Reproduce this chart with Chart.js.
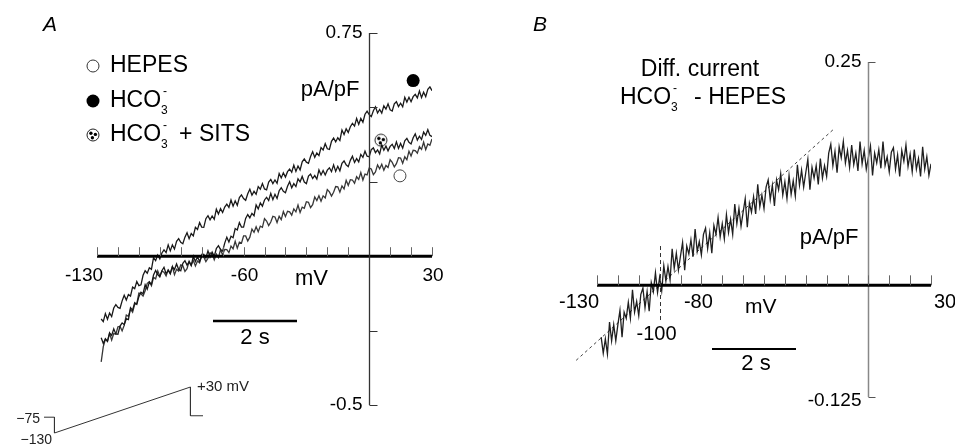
<!DOCTYPE html>
<html>
<head>
<meta charset="utf-8">
<script src="https://cdn.jsdelivr.net/npm/chart.js@4/dist/chart.umd.min.js"></script>
<style>
  html, body { margin: 0; padding: 0; background: #fff; width: 955px; height: 446px; overflow: hidden; }
  canvas { position: absolute; }
  #chartA { left: 0; top: 0; }
  #chartB { left: 480px; top: 0; }
  #chartP { left: 0; top: 370px; }
</style>
</head>
<body>
<canvas id="chartA" width="480" height="446"></canvas>
<canvas id="chartB" width="475" height="446"></canvas>
<canvas id="chartP" width="270" height="76"></canvas>
<script>
// Data

// membrane potential (mV) along the ramp, shared by both panels
const mv = [
  -128, -127, -126, -125, -124, -123, -122, -121, -120, -119,
  -118, -117, -116, -115, -114, -113, -112, -111, -110, -109,
  -108, -107, -106, -105, -104, -103, -102, -101, -100, -99,
  -98, -97, -96, -95, -94, -93, -92, -91, -90, -89,
  -88, -87, -86, -85, -84, -83, -82, -81, -80, -79,
  -78, -77, -76, -75, -74, -73, -72, -71, -70, -69,
  -68, -67, -66, -65, -64, -63, -62, -61, -60, -59,
  -58, -57, -56, -55, -54, -53, -52, -51, -50, -49,
  -48, -47, -46, -45, -44, -43, -42, -41, -40, -39,
  -38, -37, -36, -35, -34, -33, -32, -31, -30, -29,
  -28, -27, -26, -25, -24, -23, -22, -21, -20, -19,
  -18, -17, -16, -15, -14, -13, -12, -11, -10, -9,
  -8, -7, -6, -5, -4, -3, -2, -1, 0, 1,
  2, 3, 4, 5, 6, 7, 8, 9, 10, 11,
  12, 13, 14, 15, 16, 17, 18, 19, 20, 21,
  22, 23, 24, 25, 26, 27, 28, 29, 30
];

// panel A, current density (pA/pF)
const hco3 = [
  -0.211, -0.22, -0.193, -0.212, -0.191, -0.203, -0.174, -0.163, -0.172, -0.175,
  -0.15, -0.131, -0.147, -0.129, -0.134, -0.104, -0.109, -0.085, -0.099, -0.096,
  -0.064, -0.049, -0.057, -0.039, -0.044, -0.005, -0.015, 0.004, -0.009, 0.011,
  0.021, 0.012, 0.038, 0.018, 0.038, 0.024, 0.05, 0.059, 0.047, 0.042,
  0.064, 0.079, 0.059, 0.076, 0.068, 0.097, 0.09, 0.113, 0.098, 0.097,
  0.126, 0.136, 0.122, 0.135, 0.124, 0.158, 0.142, 0.16, 0.147, 0.165,
  0.175, 0.164, 0.189, 0.168, 0.186, 0.171, 0.197, 0.206, 0.194, 0.188,
  0.21, 0.225, 0.205, 0.218, 0.208, 0.234, 0.225, 0.244, 0.226, 0.223,
  0.249, 0.258, 0.244, 0.256, 0.245, 0.278, 0.263, 0.28, 0.266, 0.284,
  0.293, 0.282, 0.306, 0.285, 0.303, 0.29, 0.317, 0.327, 0.316, 0.312,
  0.335, 0.351, 0.332, 0.347, 0.338, 0.365, 0.357, 0.378, 0.361, 0.359,
  0.386, 0.397, 0.384, 0.398, 0.389, 0.424, 0.409, 0.428, 0.416, 0.435,
  0.446, 0.437, 0.463, 0.443, 0.463, 0.45, 0.477, 0.487, 0.476, 0.469,
  0.489, 0.502, 0.481, 0.493, 0.481, 0.505, 0.494, 0.512, 0.492, 0.488,
  0.512, 0.519, 0.503, 0.514, 0.502, 0.534, 0.518, 0.534, 0.519, 0.536,
  0.544, 0.532, 0.555, 0.533, 0.551, 0.536, 0.561, 0.569, 0.556
];
const hco3Sits = [
  -0.274, -0.293, -0.277, -0.286, -0.258, -0.266, -0.244, -0.261, -0.262, -0.235,
  -0.224, -0.23, -0.21, -0.213, -0.173, -0.181, -0.156, -0.162, -0.136, -0.121,
  -0.126, -0.096, -0.111, -0.087, -0.095, -0.063, -0.048, -0.062, -0.069, -0.049,
  -0.037, -0.059, -0.047, -0.059, -0.035, -0.045, -0.026, -0.045, -0.049, -0.024,
  -0.015, -0.03, -0.019, -0.032, 0.0, -0.018, -0.002, -0.018, -0.001, 0.006,
  -0.006, 0.018, -0.003, 0.014, 0.0, 0.026, 0.035, 0.022, 0.017, 0.044,
  0.064, 0.048, 0.067, 0.062, 0.093, 0.088, 0.113, 0.098, 0.098, 0.127,
  0.14, 0.129, 0.144, 0.136, 0.172, 0.159, 0.179, 0.168, 0.189, 0.198,
  0.187, 0.211, 0.19, 0.208, 0.194, 0.22, 0.23, 0.218, 0.213, 0.235,
  0.25, 0.23, 0.244, 0.234, 0.26, 0.25, 0.268, 0.249, 0.244, 0.269,
  0.276, 0.261, 0.271, 0.259, 0.29, 0.273, 0.288, 0.273, 0.289, 0.297,
  0.284, 0.307, 0.285, 0.302, 0.287, 0.312, 0.32, 0.307, 0.301, 0.322,
  0.336, 0.315, 0.328, 0.317, 0.342, 0.332, 0.353, 0.336, 0.334, 0.358,
  0.364, 0.348, 0.357, 0.344, 0.374, 0.356, 0.37, 0.354, 0.369, 0.376,
  0.362, 0.384, 0.362, 0.379, 0.363, 0.388, 0.396, 0.383, 0.377, 0.398,
  0.411, 0.39, 0.403, 0.392, 0.417, 0.406, 0.425, 0.406, 0.402
];
const hepes = [
  -0.355, -0.304, -0.279, -0.286, -0.259, -0.282, -0.26, -0.262, -0.237, -0.236,
  -0.251, -0.232, -0.198, -0.202, -0.178, -0.188, -0.162, -0.16, -0.124, -0.126,
  -0.134, -0.116, -0.091, -0.086, -0.099, -0.071, -0.076, -0.049, -0.067, -0.05,
  -0.054, -0.066, -0.046, -0.057, -0.035, -0.062, -0.044, -0.05, -0.029, -0.032,
  -0.051, -0.042, -0.017, -0.03, -0.014, -0.033, -0.016, -0.022, 0.005, -0.003,
  -0.018, -0.007, 0.011, 0.008, -0.012, 0.007, -0.005, 0.022, 0.004, 0.023,
  0.022, 0.012, 0.034, 0.025, 0.05, 0.027, 0.047, 0.044, 0.068, 0.068,
  0.051, 0.064, 0.091, 0.08, 0.099, 0.082, 0.101, 0.097, 0.126, 0.118,
  0.103, 0.115, 0.134, 0.132, 0.113, 0.134, 0.123, 0.15, 0.133, 0.151,
  0.149, 0.138, 0.159, 0.149, 0.172, 0.147, 0.165, 0.161, 0.183, 0.181,
  0.163, 0.173, 0.199, 0.187, 0.203, 0.185, 0.203, 0.196, 0.224, 0.216,
  0.202, 0.215, 0.234, 0.233, 0.215, 0.236, 0.226, 0.255, 0.238, 0.257,
  0.256, 0.245, 0.267, 0.258, 0.281, 0.256, 0.276, 0.273, 0.296, 0.293,
  0.274, 0.283, 0.307, 0.294, 0.309, 0.289, 0.305, 0.298, 0.324, 0.315,
  0.3, 0.311, 0.331, 0.33, 0.312, 0.334, 0.324, 0.353, 0.337, 0.356,
  0.355, 0.346, 0.368, 0.359, 0.383, 0.358, 0.377, 0.373, 0.394
];

// symbols placed next to each trace (mV, pA/pF): HEPES, HCO3-, HCO3- + SITS
const markMv = [14.7, 21, 5.6];
const markI = [0.27, 0.59, 0.39];

// panel B, difference current HCO3- minus HEPES (pA/pF)
const diffCurrent = [
  -0.058, -0.076, -0.06, -0.077, -0.041, -0.062, -0.044, -0.062, -0.044, -0.028,
  -0.058, -0.03, -0.037, -0.019, -0.037, -0.005, -0.03, -0.018, -0.034, -0.01,
  -0.003, -0.025, -0.007, -0.029, 0.003, -0.007, 0.014, -0.008, 0.009, -0.006,
  0.022, 0.005, 0.021, 0.006, 0.041, 0.019, 0.036, 0.017, 0.033, 0.048,
  0.017, 0.044, 0.035, 0.051, 0.032, 0.063, 0.038, 0.049, 0.034, 0.057,
  0.064, 0.041, 0.059, 0.036, 0.067, 0.057, 0.076, 0.054, 0.069, 0.052,
  0.079, 0.059, 0.074, 0.057, 0.091, 0.069, 0.086, 0.066, 0.082, 0.097,
  0.065, 0.092, 0.082, 0.099, 0.08, 0.113, 0.088, 0.101, 0.086, 0.11,
  0.118, 0.096, 0.112, 0.089, 0.118, 0.107, 0.125, 0.101, 0.116, 0.097,
  0.123, 0.102, 0.117, 0.1, 0.135, 0.112, 0.129, 0.11, 0.126, 0.141,
  0.107, 0.132, 0.12, 0.134, 0.113, 0.142, 0.12, 0.134, 0.122, 0.148,
  0.158, 0.134, 0.15, 0.126, 0.155, 0.143, 0.161, 0.137, 0.151, 0.132,
  0.157, 0.135, 0.148, 0.128, 0.161, 0.136, 0.151, 0.13, 0.143, 0.156,
  0.123, 0.148, 0.137, 0.152, 0.131, 0.161, 0.134, 0.144, 0.127, 0.149,
  0.154, 0.13, 0.146, 0.122, 0.151, 0.139, 0.157, 0.133, 0.147, 0.127,
  0.152, 0.13, 0.142, 0.122, 0.155, 0.13, 0.144, 0.123, 0.136
];
// linear fit drawn dashed
const fitMv = [-140, -17];
const fitI = [-0.084, 0.174];
const reversalMv = -100;

// ticks
const mvTicks = [-130, -120, -110, -100, -90, -80, -70, -60, -50, -40, -30, -20, -10, 0, 10, 20, 30];
const mvLabelsA = [-130, -60, 30];
const mvLabelsB = [-130, -80, 30];
const iTicksA = [-0.5, -0.25, 0.25, 0.5, 0.75];
const iLabelsA = [0.75, -0.5];
const iTicksB = [-0.125, 0.25];
const iLabelsB = [0.25, -0.125];

// voltage protocol inset (s, mV)
const protTime = [0, 0.25, 0.25, 3.5, 3.5, 3.8];
const protMv = [-75, -75, -130, 30, -70, -70];

// Helpers

const FONT = "'Liberation Sans', Arial, Helvetica, sans-serif";

function pts(xs, ys) {
  return xs.map((x, i) => ({ x: x, y: ys[i] }));
}

function write(ctx, str, x, y, size, align, style) {
  ctx.font = (style ? style + " " : "") + size + "px " + FONT;
  ctx.textAlign = align || "left";
  ctx.textBaseline = "middle";
  ctx.fillText(str, x, y);
}

// "HCO3-" with subscript 3 and superscript minus, returns end x
function writeHco3(ctx, x, y, size) {
  write(ctx, "HCO", x, y, size, "left");
  let w = ctx.measureText("HCO").width;
  let small = Math.round(size * 0.5);
  write(ctx, "3", x + w, y + size * 0.42, small, "left");
  write(ctx, "-", x + w + 2, y - size * 0.42, small, "left");
  return x + w + small;
}

function seg(ctx, x1, y1, x2, y2) {
  ctx.beginPath();
  ctx.moveTo(x1, y1);
  ctx.lineTo(x2, y2);
  ctx.stroke();
}

function sitsSymbol(r) {
  let c = document.createElement("canvas");
  c.width = c.height = 2 * r + 4;
  let g = c.getContext("2d");
  let m = r + 2;
  g.beginPath();
  g.arc(m, m, r, 0, Math.PI * 2);
  g.fillStyle = "#fff";
  g.fill();
  g.lineWidth = 1;
  g.strokeStyle = "#222";
  g.stroke();
  g.fillStyle = "#000";
  [[-0.35, -0.3], [0.4, -0.1], [-0.1, 0.45]].forEach(d => {
    g.beginPath();
    g.arc(m + d[0] * r, m + d[1] * r, r * 0.28, 0, Math.PI * 2);
    g.fill();
  });
  return c;
}
const sitsIcon = sitsSymbol(6);

function traceSet(data, color) {
  return {
    type: "line",
    data: data,
    borderColor: color,
    borderWidth: 1.3,
    pointRadius: 0,
    tension: 0,
    fill: false,
  };
}

// Panel A

const axesA = {
  id: "axesA",
  afterDraw(chart) {
    const ctx = chart.ctx, x = chart.scales.x, y = chart.scales.y;
    const y0 = y.getPixelForValue(0);
    const x0 = Math.round(x.getPixelForValue(0)) + 0.5;
    ctx.save();
    ctx.fillStyle = "#000";

    // x axis
    ctx.strokeStyle = "#000";
    ctx.lineWidth = 3;
    seg(ctx, x.getPixelForValue(-130), y0, x.getPixelForValue(30), y0);
    ctx.lineWidth = 1;
    ctx.strokeStyle = "#666";
    mvTicks.forEach(v => {
      let px = Math.round(x.getPixelForValue(v)) + 0.5;
      seg(ctx, px, y0, px, y0 - 9);
    });
    mvLabelsA.forEach(v => {
      let px = x.getPixelForValue(v) + (v === -130 ? -13 : 1);
      write(ctx, String(v), px, y0 + 20, 19, "center");
    });
    write(ctx, "mV", 295, y0 + 23, 22, "left");

    // y axis
    ctx.strokeStyle = "#333";
    ctx.lineWidth = 1.3;
    seg(ctx, x0, y.getPixelForValue(0.75), x0, y.getPixelForValue(-0.5));
    ctx.lineWidth = 1;
    iTicksA.forEach(v => {
      let py = Math.round(y.getPixelForValue(v)) + 0.5;
      seg(ctx, x0, py, x0 + 8, py);
    });
    iLabelsA.forEach(v => {
      write(ctx, String(v), x0 - 7, y.getPixelForValue(v), 19, "right");
    });
    write(ctx, "pA/pF", x0 - 10, 90, 22, "right");

    // time scale bar
    ctx.strokeStyle = "#000";
    ctx.lineWidth = 2.5;
    seg(ctx, 213, 321, 297, 321);
    write(ctx, "2 s", 255, 338, 22, "center");

    // legend
    write(ctx, "A", 50, 25, 21, "center", "italic");
    ctx.lineWidth = 1;
    ctx.strokeStyle = "#333";
    ctx.beginPath();
    ctx.arc(93, 66, 6, 0, Math.PI * 2);
    ctx.stroke();
    write(ctx, "HEPES", 110, 66, 23, "left");
    ctx.beginPath();
    ctx.arc(93, 101, 6.5, 0, Math.PI * 2);
    ctx.fill();
    writeHco3(ctx, 110, 101, 23);
    ctx.drawImage(sitsIcon, 93 - 8, 135 - 8);
    let end = writeHco3(ctx, 110, 135, 23);
    write(ctx, "+ SITS", end + 6, 135, 23, "left");
    ctx.restore();
  }
};

new Chart(document.getElementById("chartA"), {
  type: "line",
  data: {
    datasets: [
      traceSet(pts(mv, hepes), "rgba(20,20,20,0.85)"),
      traceSet(pts(mv, hco3Sits), "rgba(0,0,0,0.9)"),
      traceSet(pts(mv, hco3), "rgba(0,0,0,0.9)"),
      {
        type: "scatter",
        data: [{ x: markMv[0], y: markI[0] }],
        pointStyle: "circle",
        pointRadius: 6,
        backgroundColor: "#fff",
        borderColor: "#444",
        borderWidth: 1,
      },
      {
        type: "scatter",
        data: [{ x: markMv[1], y: markI[1] }],
        pointStyle: "circle",
        pointRadius: 6.5,
        backgroundColor: "#000",
        borderColor: "#000",
        borderWidth: 0,
      },
      {
        type: "scatter",
        data: [{ x: markMv[2], y: markI[2] }],
        pointStyle: sitsIcon,
        pointRadius: 6,
      },
    ],
  },
  options: {
    responsive: false,
    animation: false,
    layout: { padding: { left: 97, right: 48, top: 33, bottom: 41 } },
    plugins: { legend: { display: false }, tooltip: { enabled: false } },
    scales: {
      x: { type: "linear", min: -130, max: 30, display: false },
      y: { type: "linear", min: -0.5, max: 0.75, display: false },
    },
  },
  plugins: [axesA],
});

// Panel B

const axesB = {
  id: "axesB",
  afterDraw(chart) {
    const ctx = chart.ctx, x = chart.scales.x, y = chart.scales.y;
    const y0 = y.getPixelForValue(0);
    const x0 = Math.round(x.getPixelForValue(0)) + 0.5;
    ctx.save();
    ctx.fillStyle = "#000";

    // y axis
    ctx.strokeStyle = "#888";
    ctx.lineWidth = 1.5;
    seg(ctx, x0, y.getPixelForValue(0.25), x0, y.getPixelForValue(-0.125));
    ctx.lineWidth = 1;
    ctx.strokeStyle = "#555";
    iTicksB.forEach(v => {
      let py = Math.round(y.getPixelForValue(v)) + 0.5;
      seg(ctx, x0, py, x0 + 7, py);
    });
    iLabelsB.forEach(v => {
      write(ctx, String(v), x0 - 7, y.getPixelForValue(v) + (v < 0 ? 4 : 0), 19, "right");
    });
    write(ctx, "pA/pF", x0 - 10, 238, 22, "right");

    // x axis
    ctx.strokeStyle = "#000";
    ctx.lineWidth = 3;
    seg(ctx, x.getPixelForValue(-130), y0, x.getPixelForValue(30), y0);
    ctx.lineWidth = 1;
    ctx.strokeStyle = "#666";
    mvTicks.forEach(v => {
      let px = Math.round(x.getPixelForValue(v)) + 0.5;
      seg(ctx, px, y0, px, y0 - 10);
    });
    mvLabelsB.forEach(v => {
      let dx = v === -130 ? -18 : (v === 30 ? 3 : -3);
      let align = v === 30 ? "left" : "center";
      write(ctx, String(v), x.getPixelForValue(v) + dx, y0 + 17, 20, align);
    });
    write(ctx, "mV", 265, y0 + 22, 21, "left");

    // reversal potential marker
    ctx.strokeStyle = "#333";
    ctx.setLineDash([4, 3]);
    let xr = Math.round(x.getPixelForValue(reversalMv)) + 0.5;
    seg(ctx, xr, y.getPixelForValue(0.044), xr, y.getPixelForValue(-0.039));
    ctx.setLineDash([]);
    write(ctx, String(reversalMv), xr - 4, y0 + 49, 20, "center");

    // time scale bar
    ctx.strokeStyle = "#000";
    ctx.lineWidth = 2;
    seg(ctx, 232, 349, 316, 349);
    write(ctx, "2 s", 276, 364, 22, "center");

    // title
    write(ctx, "B", 60, 25, 21, "center", "italic");
    write(ctx, "Diff. current", 220, 70, 23, "center");
    let end = writeHco3(ctx, 140, 98, 23);
    write(ctx, "- HEPES", end + 11, 98, 23, "left");
    ctx.restore();
  }
};

new Chart(document.getElementById("chartB"), {
  type: "line",
  data: {
    datasets: [
      traceSet(pts(mv, diffCurrent), "rgba(0,0,0,0.88)"),
      {
        type: "line",
        data: pts(fitMv, fitI),
        borderColor: "#444",
        borderWidth: 1,
        borderDash: [3, 3],
        pointRadius: 0,
        clip: false,
      },
    ],
  },
  options: {
    responsive: false,
    animation: false,
    layout: { padding: { left: 117, right: 24, top: 62, bottom: 49 } },
    plugins: { legend: { display: false }, tooltip: { enabled: false } },
    scales: {
      x: { type: "linear", min: -130, max: 30, display: false },
      y: { type: "linear", min: -0.125, max: 0.25, display: false },
    },
  },
  plugins: [axesB],
});

// Voltage protocol inset

const protLabels = {
  id: "protLabels",
  afterDraw(chart) {
    const ctx = chart.ctx, y = chart.scales.y;
    ctx.save();
    ctx.fillStyle = "#222";
    write(ctx, "\u221275", 40, y.getPixelForValue(-75) + 2, 14, "right");
    write(ctx, "\u2212130", 52, y.getPixelForValue(-130) + 7, 14, "right");
    write(ctx, "+30 mV", 197, y.getPixelForValue(30), 15, "left");
    ctx.restore();
  }
};

new Chart(document.getElementById("chartP"), {
  type: "line",
  data: {
    datasets: [
      {
        data: pts(protTime, protMv),
        borderColor: "#333",
        borderWidth: 1,
        pointRadius: 0,
        tension: 0,
        clip: false,
      },
    ],
  },
  options: {
    responsive: false,
    animation: false,
    layout: { padding: { left: 44, right: 67, top: 17, bottom: 13 } },
    plugins: { legend: { display: false }, tooltip: { enabled: false } },
    scales: {
      x: { type: "linear", min: 0, max: 3.8, display: false },
      y: { type: "linear", min: -130, max: 30, display: false },
    },
  },
  plugins: [protLabels],
});
</script>
</body>
</html>
